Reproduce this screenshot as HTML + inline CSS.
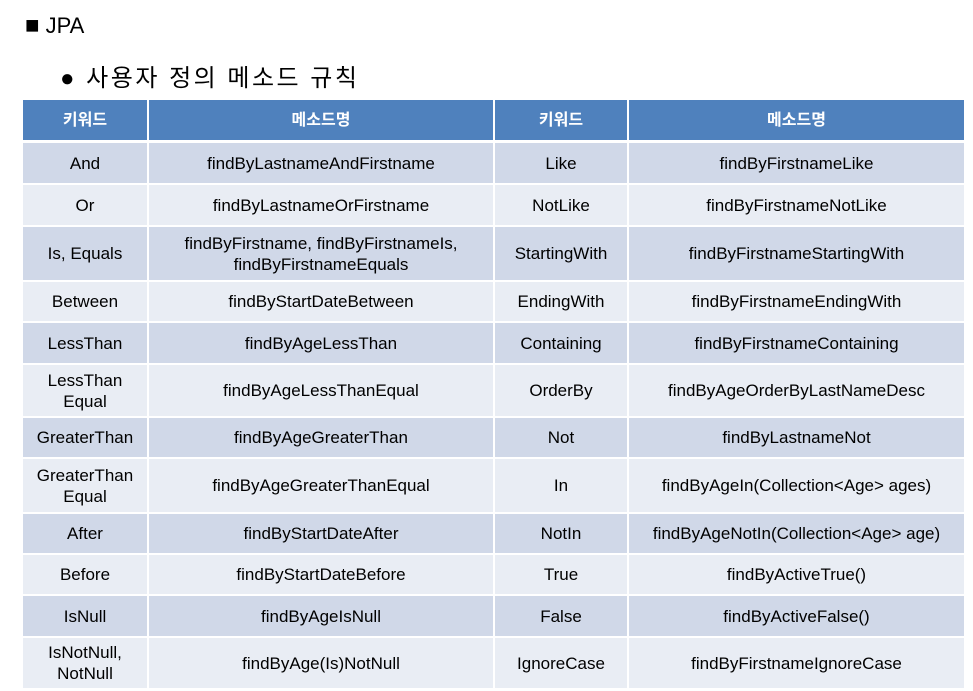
<!DOCTYPE html>
<html><head><meta charset="utf-8">
<style>
body{margin:0;width:973px;height:691px;background:#fff;position:relative;overflow:hidden;font-family:"Liberation Sans","Noto Sans CJK KR",sans-serif;}
.t1{position:absolute;left:25px;top:12px;font-size:22px;color:#000;}
.t1 .sq{font-size:24px;}
.t2{position:absolute;left:60px;top:58px;font-size:24px;color:#000;letter-spacing:2.5px;}
.c{position:absolute;display:flex;align-items:center;justify-content:center;text-align:center;font-size:17px;color:#000;line-height:21px;box-sizing:border-box;}
.h{background:#4f81bd;color:#fff;font-weight:bold;font-size:16px;}
.d{background:#d0d8e8;}
.l{background:#e9edf4;}
</style></head>
<body>
<div class="t1"><span class="sq">■</span> JPA</div>
<div class="t2">● 사용자 정의 메소드 규칙</div>
<div id="tbl"></div>
<script>
const headers=["키워드","메소드명","키워드","메소드명"];
const leftKeys=["And","Or","Is, Equals","Between","LessThan","LessThan<br>Equal","GreaterThan","GreaterThan<br>Equal","After","Before","IsNull","IsNotNull,<br>NotNull"];
const leftMethods=["findByLastnameAndFirstname","findByLastnameOrFirstname","findByFirstname, findByFirstnameIs,<br>findByFirstnameEquals","findByStartDateBetween","findByAgeLessThan","findByAgeLessThanEqual","findByAgeGreaterThan","findByAgeGreaterThanEqual","findByStartDateAfter","findByStartDateBefore","findByAgeIsNull","findByAge(Is)NotNull"];
const rightKeys=["Like","NotLike","StartingWith","EndingWith","Containing","OrderBy","Not","In","NotIn","True","False","IgnoreCase"];
const rightMethods=["findByFirstnameLike","findByFirstnameNotLike","findByFirstnameStartingWith","findByFirstnameEndingWith","findByFirstnameContaining","findByAgeOrderByLastNameDesc","findByLastnameNot","findByAgeIn(Collection&lt;Age&gt; ages)","findByAgeNotIn(Collection&lt;Age&gt; age)","findByActiveTrue()","findByActiveFalse()","findByFirstnameIgnoreCase"];
const colX=[23,149,495,629,966];
const rowY=[143,185,227,282,323,365,418,459,514,555,596,638,690];
const tbl=document.getElementById('tbl');
function cell(cls,x0,x1,y0,y1,html){
  const d=document.createElement('div');
  d.className='c '+cls;
  d.style.left=x0+'px';d.style.width=(x1-x0-2)+'px';
  d.style.top=y0+'px';d.style.height=(y1-y0-2)+'px';
  d.innerHTML=html;
  tbl.appendChild(d);
  return d;
}
headers.forEach((h,i)=>{
  const d=cell('h',colX[i],colX[i+1],100,142,h);
  
  
});
for(let r=0;r<leftKeys.length;r++){
  const cls=r%2===0?'d':'l';
  const vals=[leftKeys[r],leftMethods[r],rightKeys[r],rightMethods[r]];
  vals.forEach((v,i)=>{
    const d=cell(cls,colX[i],colX[i+1],rowY[r],rowY[r+1],v);
    
    
  });
}
</script>
</body></html>
